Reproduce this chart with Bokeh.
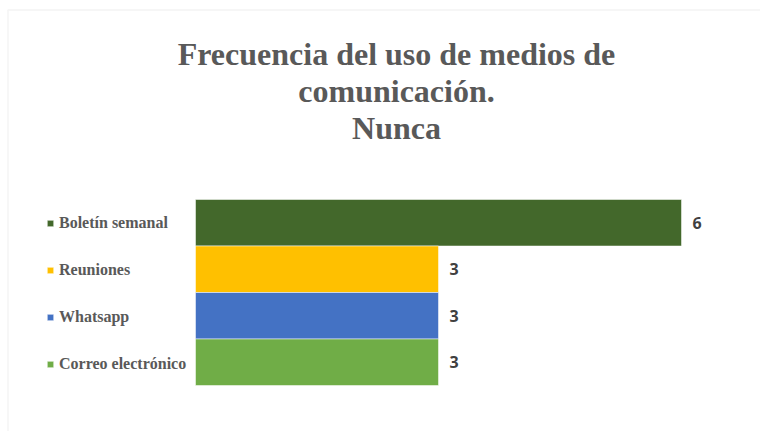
from bokeh.plotting import figure
from bokeh.models import (ColumnDataSource, Range1d, Label, Legend,
                          LegendItem, BoxAnnotation)
from bokeh.core.properties import value
from bokeh.embed import file_html
from bokeh.resources import INLINE

# ---- data ----
categories = ["Boletín semanal", "Reuniones", "Whatsapp", "Correo electrónico"]
counts = [6, 3, 3, 3]
colors = ["#43682B", "#FFC000", "#4472C4", "#70AD47"]
title_lines = ["Frecuencia del uso de medios de", "comunicación.", "Nunca"]

# category positions: first category on top
ypos = [len(categories) - 1 - i for i in range(len(categories))]

src = ColumnDataSource(dict(cat=categories, y=ypos, val=counts, color=colors,
                            lab=[str(v) for v in counts]))

W, H = 760, 431
PX_X = 81.0     # pixels per unit of count
PX_Y = 46.5     # pixels per category
p = figure(width=W, height=H, output_backend="svg", toolbar_location=None,
           x_range=Range1d(-195 / PX_X, (W - 195) / PX_X),
           y_range=Range1d(-69.25 / PX_Y, (H - 69.25) / PX_Y),
           x_axis_location=None, y_axis_location=None,
           min_border=0, min_border_left=0, min_border_right=0,
           min_border_top=0, min_border_bottom=0)
p.title = None
p.outline_line_color = None
p.xgrid.visible = False
p.ygrid.visible = False
p.background_fill_color = "white"
p.border_fill_color = "white"

bars = p.hbar(y="y", right="val", left=0, height=1.0, color="color",
              line_color="white", line_width=0.5, source=src)

p.text(x="val", y="y", text="lab", source=src, x_offset=11,
       text_baseline="middle", text_align="left",
       text_font=value("Open Sans"), text_font_size="16px",
       text_font_style="bold", text_color="#404040")

# legend on the left, aligned with bars
items = [LegendItem(label=c, renderers=[bars], index=i) for i, c in enumerate(categories)]
legend = Legend(items=items, location=(46, 57), orientation="vertical",
                glyph_width=8, glyph_height=8, label_standoff=5,
                label_height=20, spacing=27, padding=0, margin=0,
                border_line_color=None, background_fill_alpha=0,
                label_text_font="Liberation Serif", label_text_font_style="bold",
                label_text_font_size="16px", label_text_color="#595959")
p.add_layout(legend)

# title, three centred lines
baselines = [378, 341, 304]
for line, yb in zip(title_lines, baselines):
    p.add_layout(Label(x=396, y=yb, x_units="screen", y_units="screen",
                       text=line, text_align="center", text_baseline="alphabetic",
                       text_font="Liberation Serif", text_font_style="bold",
                       text_font_size="32px", text_color="#595959"))

# chart area border (top and left visible)
p.add_layout(BoxAnnotation(left=7.5, right=900, top=421.5, bottom=-200,
                           left_units="screen", right_units="screen",
                           top_units="screen", bottom_units="screen",
                           fill_alpha=0, line_color="#D9D9D9", line_width=1.5))

open("out.html", "w").write(file_html(p, INLINE))
